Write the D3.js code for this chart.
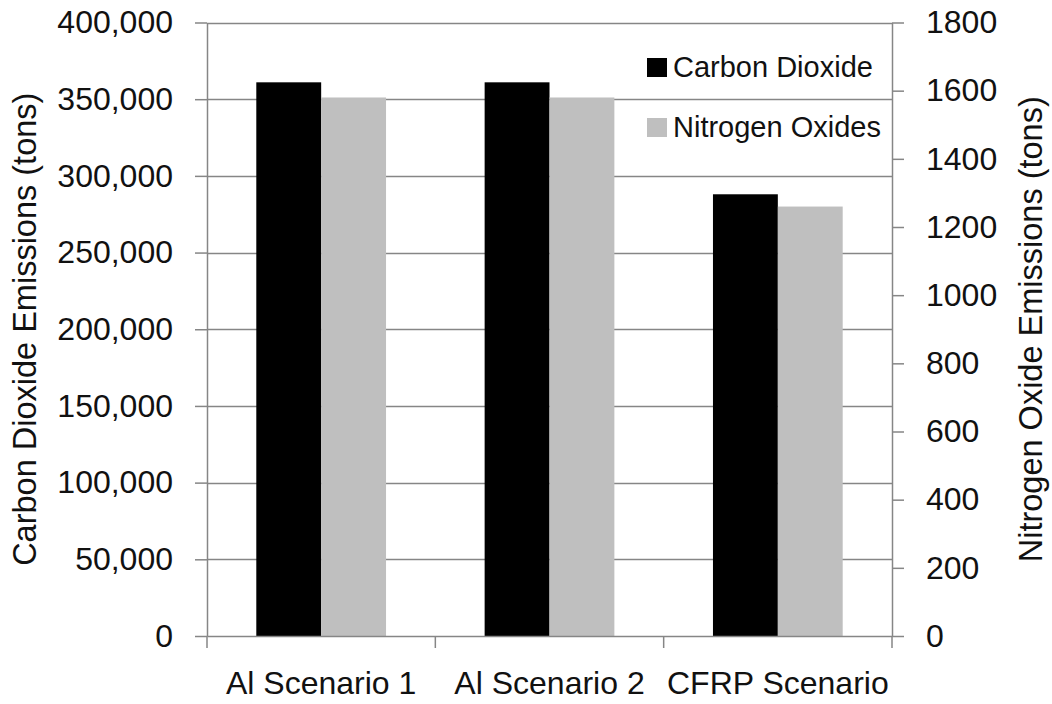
<!DOCTYPE html>
<html>
<head>
<meta charset="utf-8">
<script src="https://cdn.jsdelivr.net/npm/d3@7"></script>
<style>
  body { margin: 0; background: #fff; }
  text { font-family: "Liberation Sans", Arial, sans-serif; fill: #111; }
</style>
</head>
<body>
<script>
// chart data
const categories = ["Al Scenario 1", "Al Scenario 2", "CFRP Scenario"];
const series = ["Carbon Dioxide", "Nitrogen Oxides"];
const co2 = [361000, 361000, 288000];
const nox = [1580, 1580, 1260];
const leftTicks = [0, 50000, 100000, 150000, 200000, 250000, 300000, 350000, 400000];
const rightTicks = [0, 200, 400, 600, 800, 1000, 1200, 1400, 1600, 1800];

const W = 1052, H = 704;
const plotL = 207, plotR = 892, plotT = 22.5, plotB = 636;
const axisCol = "#868686";
const colors = { "Carbon Dioxide": "#000000", "Nitrogen Oxides": "#bfbfbf" };

const svg = d3.select("body").append("svg")
  .attr("width", W)
  .attr("height", H)
  .style("background", "#fff");

const x = d3.scaleBand().domain(categories).range([plotL, plotR]).padding(0);
const x1 = d3.scaleBand().domain(series).range([0, x.bandwidth()]).paddingInner(0).paddingOuter(0.76);
const yL = d3.scaleLinear().domain([0, 400000]).range([plotB, plotT]);
const yR = d3.scaleLinear().domain([0, 1800]).range([plotB, plotT]);

// gridlines
svg.append("g").selectAll("line")
  .data(leftTicks.filter(d => d > 0))
  .enter().append("line")
    .attr("x1", plotL).attr("x2", plotR)
    .attr("y1", d => Math.round(yL(d)) + 0.5)
    .attr("y2", d => Math.round(yL(d)) + 0.5)
    .attr("stroke", axisCol)
    .attr("stroke-width", 1.5);

// bars
const rows = categories.map((c, i) => ({ cat: c, co2: co2[i], nox: nox[i] }));
const groups = svg.append("g").selectAll("g")
  .data(rows)
  .enter().append("g")
    .attr("transform", d => `translate(${x(d.cat)},0)`);

groups.append("rect")
  .attr("x", x1("Carbon Dioxide"))
  .attr("y", d => yL(d.co2))
  .attr("width", x1.bandwidth())
  .attr("height", d => plotB - yL(d.co2))
  .attr("fill", colors["Carbon Dioxide"]);

groups.append("rect")
  .attr("x", x1("Nitrogen Oxides"))
  .attr("y", d => yR(d.nox))
  .attr("width", x1.bandwidth())
  .attr("height", d => plotB - yR(d.nox))
  .attr("fill", colors["Nitrogen Oxides"]);

// left axis
const axL = svg.append("g")
  .attr("transform", `translate(${plotL},0)`)
  .call(d3.axisLeft(yL).tickValues(leftTicks).tickFormat(d3.format(",")).tickSize(12).tickPadding(22).tickSizeOuter(0));
axL.select(".domain").attr("stroke", axisCol).attr("stroke-width", 1.5);
axL.selectAll(".tick line").attr("stroke", axisCol).attr("stroke-width", 1.5);
axL.selectAll(".tick text").attr("font-size", "32px").attr("fill", "#111")
  .attr("font-family", "Liberation Sans, Arial, sans-serif");

// right axis
const axR = svg.append("g")
  .attr("transform", `translate(${plotR},0)`)
  .call(d3.axisRight(yR).tickValues(rightTicks).tickFormat(d3.format("d")).tickSize(12).tickPadding(22).tickSizeOuter(0));
axR.select(".domain").attr("stroke", axisCol).attr("stroke-width", 1.5);
axR.selectAll(".tick line").attr("stroke", axisCol).attr("stroke-width", 1.5);
axR.selectAll(".tick text").attr("font-size", "32px").attr("fill", "#111")
  .attr("font-family", "Liberation Sans, Arial, sans-serif");

// bottom axis
const axB = svg.append("g")
  .attr("transform", `translate(0,${plotB})`)
  .call(d3.axisBottom(x).tickSize(0).tickPadding(35));
axB.select(".domain").attr("stroke", axisCol).attr("stroke-width", 1.5);
axB.selectAll(".tick text").attr("font-size", "32px").attr("fill", "#111")
  .attr("font-family", "Liberation Sans, Arial, sans-serif");

const edges = categories.map(c => x(c)).concat([x(categories[categories.length - 1]) + x.bandwidth()]);
axB.selectAll(".edge")
  .data(edges)
  .enter().append("line")
    .attr("class", "edge")
    .attr("x1", d => d).attr("x2", d => d)
    .attr("y1", 0).attr("y2", 12)
    .attr("stroke", axisCol).attr("stroke-width", 1.5);

// axis titles
svg.append("text")
  .attr("transform", `translate(36,${(plotT + plotB) / 2}) rotate(-90)`)
  .attr("text-anchor", "middle")
  .attr("font-size", "32.5px")
  .text("Carbon Dioxide Emissions (tons)");

svg.append("text")
  .attr("transform", `translate(1042,${(plotT + plotB) / 2}) rotate(-90)`)
  .attr("text-anchor", "middle")
  .attr("font-size", "32.5px")
  .text("Nitrogen Oxide Emissions (tons)");

// legend
const legend = svg.append("g").attr("transform", "translate(647,58)");
series.forEach((s, i) => {
  const g = legend.append("g").attr("transform", `translate(0,${i * 60})`);
  g.append("rect")
    .attr("width", 20).attr("height", 19)
    .attr("fill", colors[s]);
  g.append("text")
    .attr("x", 26).attr("y", 19)
    .attr("font-size", "29px")
    .text(s);
});
</script>
</body>
</html>
